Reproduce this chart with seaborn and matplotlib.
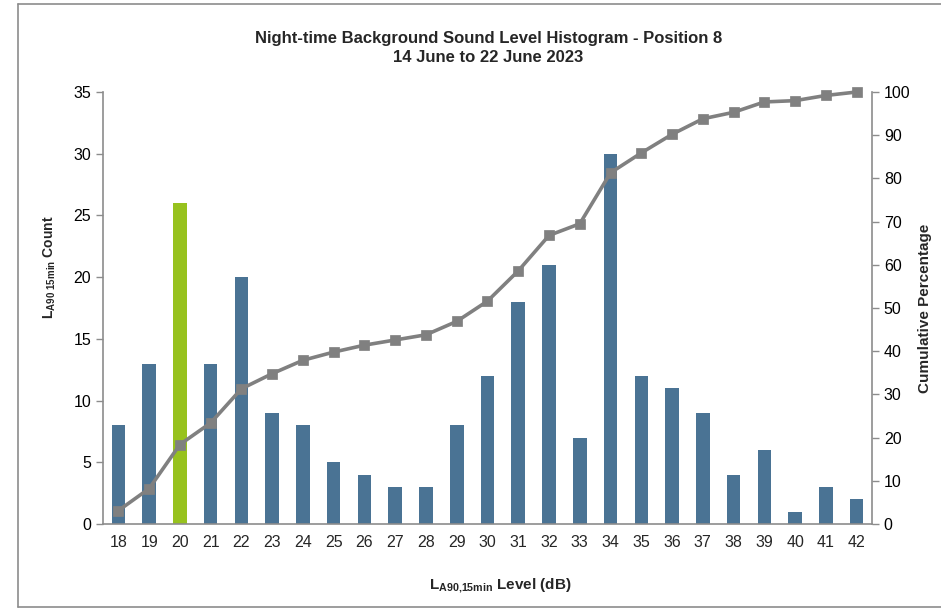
import numpy as np
import pandas as pd
import matplotlib
matplotlib.use("Agg")
import matplotlib.pyplot as plt
import seaborn as sns

# data
levels = [str(v) for v in range(18, 43)]
counts = [8, 13, 26, 13, 20, 9, 8, 5, 4, 3, 3, 8, 12, 18, 21, 7, 30, 12, 11, 9, 4, 6, 1, 3, 2]
cum_pct = [3.1, 8.2, 18.4, 23.4, 31.3, 34.8, 37.9, 39.8, 41.4, 42.6, 43.8, 46.9, 51.6,
           58.6, 66.8, 69.5, 81.3, 85.9, 90.2, 93.8, 95.3, 97.7, 98.0, 99.2, 100.0]
highlight = "20"

sns.set_style("white")
plt.rcParams["font.family"] = ["Liberation Sans", "DejaVu Sans"]
plt.rcParams["mathtext.fontset"] = "custom"
plt.rcParams["mathtext.rm"] = "Liberation Sans"
plt.rcParams["mathtext.bf"] = "Liberation Sans:bold"

df = pd.DataFrame({"level": levels, "count": counts, "cum": cum_pct})
bar_col = "#4A7394"
palette = {l: ("#97C21E" if l == highlight else bar_col) for l in levels}
grey = "#8C8C8C"

fig = plt.figure(figsize=(9.41, 6.09), dpi=100)
ax = fig.add_axes([103 / 941, 1 - 524 / 609, 769 / 941, 432 / 609])

sns.barplot(data=df, x="level", y="count", hue="level", palette=palette,
            legend=False, width=0.44, ax=ax, saturation=1, linewidth=0)
ax.set_ylim(0, 35)
ax.set_yticks(range(0, 36, 5))
ax.set_xlim(-0.5, len(levels) - 0.5)

ax2 = ax.twinx()
sns.pointplot(data=df, x="level", y="cum", color="#808080", markers="s",
              linewidth=2.6, markersize=6, ax=ax2)
for ln in ax2.lines:
    ln.set_clip_on(False)
ax2.set_ylim(0, 100)
ax2.set_yticks(range(0, 101, 10))
ax2.set_xlim(-0.5, len(levels) - 0.5)

for a in (ax, ax2):
    a.spines["top"].set_visible(False)
    for s in ("left", "right", "bottom"):
        a.spines[s].set_color(grey)
        a.spines[s].set_linewidth(1.2)
    a.tick_params(axis="y", colors=grey, length=5, width=1, labelcolor="black",
                  labelsize=11.5, direction="out")
ax.spines["right"].set_visible(False)
ax2.spines["left"].set_visible(False)
ax2.spines["bottom"].set_visible(False)

# category ticks between bars, like the original
ax.set_xticks(np.arange(-0.5, len(levels), 1.0), minor=True)
ax.tick_params(axis="x", which="minor", length=5, color=grey, width=1, direction="out")
ax.tick_params(axis="x", which="major", length=0, labelsize=11.5, pad=8)

ax.set_xlabel(r"$\mathbf{L_{A90{,}15min}}$ Level (dB)", fontsize=11, fontweight="bold", va="center")
ax.xaxis.set_label_coords(0.516, -0.144)
ax.set_ylabel(r"$\mathbf{L_{A90\ 15min}}$ Count", fontsize=10, fontweight="bold", va="center")
ax.yaxis.set_label_coords(-0.069, 0.595)
ax2.set_ylabel("Cumulative Percentage", fontsize=11, fontweight="bold", va="center")
ax2.yaxis.set_label_coords(1.069, 0.5)

fig.text(0.519, 1 - 38 / 609, "Night-time Background Sound Level Histogram - Position 8",
         ha="center", va="center", fontsize=12, fontweight="bold")
fig.text(0.519, 1 - 57 / 609, "14 June to 22 June 2023",
         ha="center", va="center", fontsize=12, fontweight="bold")

# frame around the chart area
fig.add_artist(plt.Line2D([18 / 941, 18 / 941], [1 - 607 / 609, 1 - 4 / 609], color=grey, lw=1.2))
fig.add_artist(plt.Line2D([18 / 941, 1.0], [1 - 4 / 609, 1 - 4 / 609], color=grey, lw=1.2))
fig.add_artist(plt.Line2D([18 / 941, 1.0], [1 - 607 / 609, 1 - 607 / 609], color=grey, lw=1.2))

fig.savefig("out.png", dpi=100)
